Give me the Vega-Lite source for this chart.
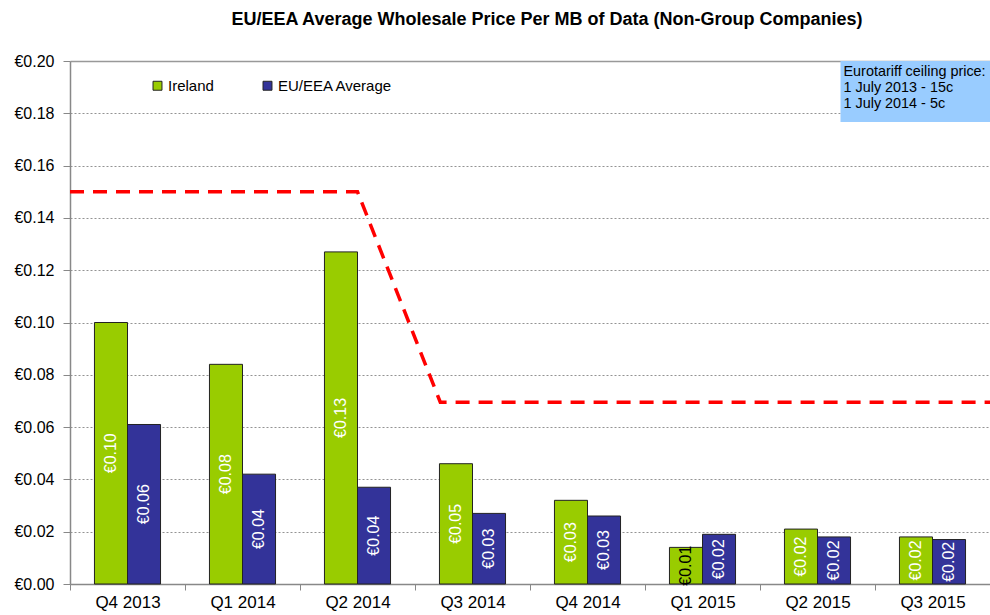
{
  "$schema": "https://vega.github.io/schema/vega-lite/v6.json",
  "width": 920,
  "height": 523,
  "autosize": {"type": "none"},
  "padding": {"left": 70, "top": 61, "right": 0, "bottom": 31},
  "background": "white",
  "config": {
    "locale": {"number": {"decimal": ".", "thousands": ",", "grouping": [3], "currency": ["€", ""]}},
    "font": "Liberation Sans",
    "view": {"stroke": null}
  },
  "title": {
    "text": "EU/EEA Average Wholesale Price Per MB of Data (Non-Group  Companies)",
    "fontSize": 18,
    "fontWeight": "bold",
    "font": "Liberation Sans",
    "anchor": "middle",
    "offset": 24,
    "dx": 17,
    "color": "black"
  },
  "datasets": {
    "prices": [
      {"q": "Q4 2013", "series": "Ireland", "value": 0.100},
      {"q": "Q4 2013", "series": "EU/EEA Average", "value": 0.061},
      {"q": "Q1 2014", "series": "Ireland", "value": 0.084},
      {"q": "Q1 2014", "series": "EU/EEA Average", "value": 0.042},
      {"q": "Q2 2014", "series": "Ireland", "value": 0.127},
      {"q": "Q2 2014", "series": "EU/EEA Average", "value": 0.037},
      {"q": "Q3 2014", "series": "Ireland", "value": 0.046},
      {"q": "Q3 2014", "series": "EU/EEA Average", "value": 0.027},
      {"q": "Q4 2014", "series": "Ireland", "value": 0.032},
      {"q": "Q4 2014", "series": "EU/EEA Average", "value": 0.026},
      {"q": "Q1 2015", "series": "Ireland", "value": 0.014},
      {"q": "Q1 2015", "series": "EU/EEA Average", "value": 0.019},
      {"q": "Q2 2015", "series": "Ireland", "value": 0.021},
      {"q": "Q2 2015", "series": "EU/EEA Average", "value": 0.018},
      {"q": "Q3 2015", "series": "Ireland", "value": 0.018},
      {"q": "Q3 2015", "series": "EU/EEA Average", "value": 0.017}
    ],
    "ceiling": [
      {"t": 0, "price": 0.15},
      {"t": 2.5, "price": 0.15},
      {"t": 3.22, "price": 0.0695},
      {"t": 8, "price": 0.0695}
    ]
  },
  "layer": [
    {
      "data": {"name": "prices"},
      "mark": {"type": "bar", "stroke": "#222222", "strokeWidth": 1},
      "encoding": {
        "x": {
          "field": "q", "type": "nominal",
          "sort": ["Q4 2013", "Q1 2014", "Q2 2014", "Q3 2014", "Q4 2014", "Q1 2015", "Q2 2015", "Q3 2015"],
          "scale": {"paddingInner": 0, "paddingOuter": 0},
          "axis": {
            "title": null, "labelAngle": 0, "labelFontSize": 17, "labelColor": "black",
            "tickBand": "extent", "domainColor": "#888888", "domainWidth": 1.5,
            "tickColor": "#888888", "tickSize": 6, "labelPadding": 4
          }
        },
        "xOffset": {
          "field": "series", "type": "nominal",
          "sort": ["Ireland", "EU/EEA Average"],
          "scale": {"paddingOuter": 0.74, "paddingInner": 0}
        },
        "y": {
          "field": "value", "type": "quantitative",
          "scale": {"domain": [0, 0.2], "nice": false},
          "axis": {
            "title": null, "values": [0, 0.02, 0.04, 0.06, 0.08, 0.1, 0.12, 0.14, 0.16, 0.18, 0.2],
            "format": "$.2f", "labelFontSize": 16, "labelColor": "black",
            "domainColor": "#888888", "domainWidth": 1.5, "tickColor": "#888888", "tickSize": 7,
            "labelPadding": 9, "grid": true,
            "gridColor": {"condition": {"test": "datum.value >= 0.199", "value": "#999999"}, "value": "#777777"},
            "gridDash": {"condition": {"test": "datum.value >= 0.199", "value": []}, "value": [2, 2]},
            "gridWidth": {"condition": {"test": "datum.value >= 0.199", "value": 1.5}, "value": 0.8}
          }
        },
        "color": {
          "field": "series", "type": "nominal",
          "scale": {"domain": ["Ireland", "EU/EEA Average"], "range": ["#99cc00", "#333399"]},
          "legend": {
            "orient": "none", "legendX": 80, "legendY": 17, "direction": "horizontal",
            "title": null, "symbolType": "square", "symbolSize": 80,
            "symbolStrokeColor": "#222222", "symbolStrokeWidth": 1,
            "labelFontSize": 15, "labelColor": "black", "columnPadding": 46, "labelOffset": 3
          }
        }
      }
    },
    {
      "data": {"name": "prices"},
      "mark": {"type": "text", "angle": 270, "align": "center", "baseline": "middle", "fontSize": 16},
      "encoding": {
        "x": {
          "field": "q", "type": "nominal",
          "sort": ["Q4 2013", "Q1 2014", "Q2 2014", "Q3 2014", "Q4 2014", "Q1 2015", "Q2 2015", "Q3 2015"],
          "scale": {"paddingInner": 0, "paddingOuter": 0},
          "axis": null
        },
        "xOffset": {
          "field": "series", "type": "nominal",
          "sort": ["Ireland", "EU/EEA Average"],
          "scale": {"paddingOuter": 0.74, "paddingInner": 0}
        },
        "y": {
          "field": "value", "type": "quantitative",
          "scale": {"domain": [0, 0.4], "nice": false},
          "axis": null
        },
        "text": {"field": "value", "type": "quantitative", "format": "$.2f"},
        "color": {"condition": {"test": "datum.value < 0.015", "value": "black"}, "value": "white"}
      }
    },
    {
      "data": {"name": "ceiling"},
      "mark": {"type": "line", "color": "#ff0000", "strokeWidth": 3.5, "strokeDash": [14, 9]},
      "encoding": {
        "x": {"field": "t", "type": "quantitative", "scale": {"domain": [0, 8], "nice": false, "zero": false}, "axis": null},
        "y": {"field": "price", "type": "quantitative", "scale": {"domain": [0, 0.2], "nice": false}, "axis": null}
      }
    },
    {
      "data": {"values": [{}]},
      "mark": {"type": "rect", "color": "#99ccff"},
      "encoding": {
        "x": {"datum": 6.7, "type": "quantitative", "scale": {"domain": [0, 8], "nice": false, "zero": false}, "axis": null},
        "x2": {"datum": 8},
        "y": {"datum": 0.1767, "type": "quantitative", "scale": {"domain": [0, 0.2], "nice": false}, "axis": null},
        "y2": {"datum": 0.2}
      }
    },
    {
      "data": {"values": [{}]},
      "mark": {"type": "text", "align": "left", "baseline": "top", "fontSize": 14.4, "lineHeight": 16, "color": "black", "dx": 3, "dy": 4},
      "encoding": {
        "x": {"datum": 6.7, "type": "quantitative", "scale": {"domain": [0, 8], "nice": false, "zero": false}, "axis": null},
        "y": {"datum": 0.2, "type": "quantitative", "scale": {"domain": [0, 0.2], "nice": false}, "axis": null},
        "text": {"value": ["Eurotariff ceiling price:", "1 July 2013 - 15c", "1 July 2014 - 5c"]}
      }
    }
  ],
  "resolve": {"scale": {"x": "independent", "y": "independent"}}
}
